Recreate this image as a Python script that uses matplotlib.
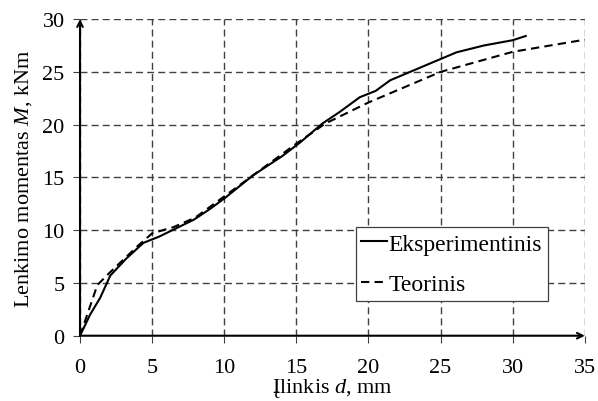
import matplotlib
matplotlib.use("Agg")
import matplotlib.pyplot as plt

# deflection d (mm) vs bending moment M (kNm)
d_exp = [0, 0.7, 1.4, 2.1, 3.2, 4.4, 5.5, 6.7, 7.9, 9.0, 10.0, 12.0, 14.0,
         15.25, 16.8, 18.0, 19.4, 20.5, 21.5, 24.1, 26.1, 28.0, 30.0, 30.9]
m_exp = [0, 2.0, 3.6, 5.7, 7.3, 8.8, 9.4, 10.2, 11.0, 12.0, 13.0, 15.2, 17.0,
         18.3, 20.1, 21.2, 22.6, 23.2, 24.2, 25.7, 26.85, 27.5, 28.0, 28.4]

d_teo = [0, 1.2, 2.0, 3.0, 4.0, 5.0, 6.5, 8.0, 10.0, 15.0, 17.0, 20.0, 25.0, 30.0, 35.0]
m_teo = [0, 4.8, 5.9, 7.2, 8.5, 9.7, 10.3, 11.2, 13.2, 18.2, 20.1, 22.1, 25.0, 26.9, 28.05]

ticks_x = [0, 5, 10, 15, 20, 25, 30, 35]
ticks_y = [0, 5, 10, 15, 20, 25, 30]

plt.rcParams['font.family'] = 'Liberation Serif'
plt.rcParams['mathtext.fontset'] = 'custom'
plt.rcParams['mathtext.it'] = 'Liberation Serif:italic'
plt.rcParams['mathtext.rm'] = 'Liberation Serif'

fig = plt.figure(figsize=(5.98, 4.02), dpi=100)
ax = fig.add_axes([0.1338, 0.1624, 0.978 - 0.1338, 0.950 - 0.1624])

ax.plot(d_exp, m_exp, color='black', lw=1.5, label='Eksperimentinis')
ax.plot(d_teo, m_teo, color='black', lw=1.5, ls=(0, (4, 2.5)), label='Teorinis')

ax.set_xlim(0, 35)
ax.set_ylim(0, 30)
ax.set_xticks(ticks_x)
ax.set_yticks(ticks_y)
ax.grid(True, color='#404040', ls=(0, (5, 3)), lw=1)
ax.set_axisbelow(True)

for s in ['top', 'right', 'left', 'bottom']:
    ax.spines[s].set_visible(False)

# axes with arrows
ax.annotate('', xy=(0, 1.0), xytext=(0, 0), xycoords='axes fraction',
            arrowprops=dict(arrowstyle='->', lw=1.5, color='black', shrinkA=0, shrinkB=0))
ax.annotate('', xy=(1.0, 0), xytext=(0, 0), xycoords='axes fraction',
            arrowprops=dict(arrowstyle='->', lw=1.5, color='black', shrinkA=0, shrinkB=0))

ax.tick_params(axis='x', length=5, pad=11, labelsize=16, color='#404040')
ax.tick_params(axis='y', length=5, pad=6, labelsize=16, color='#404040')
ax.set_xlabel(r'Įlinkis $d$, mm', fontsize=16, labelpad=-1)
ax.set_ylabel(r'Lenkimo momentas $M$, kNm', fontsize=16, labelpad=6)

leg = ax.legend(loc='lower right', bbox_to_anchor=(0.927, 0.110), fontsize=17,
                frameon=True, fancybox=False, edgecolor='#404040', framealpha=1,
                handlelength=1.1, handletextpad=0.05, borderpad=0.25,
                labelspacing=0.8, borderaxespad=0)
leg.get_frame().set_linewidth(0.9)

fig.savefig('out.png', dpi=100)
